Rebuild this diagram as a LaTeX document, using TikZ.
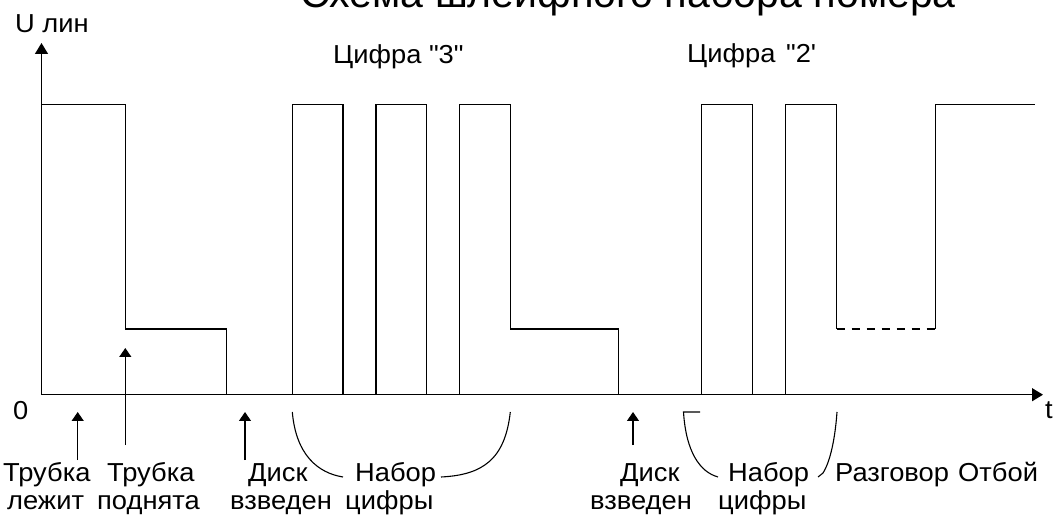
\documentclass[tikz,border=0pt]{standalone}
\usepackage{fontspec}
\usetikzlibrary{arrows.meta}
\newfontfamily\labfont[FakeStretch=1.05]{Liberation Sans}
\newfontfamily\titlefont{Liberation Sans}
\begin{document}
\begin{tikzpicture}[x=1pt,y=-1pt,
  lbl/.style={inner sep=0pt,anchor=base west,font=\labfont\fontsize{26}{30}\selectfont},
  sig/.style={line width=1.3pt,line join=miter},
  brk/.style={line width=1.1pt},
  tip/.style={-{Triangle[length=9pt,width=12pt]},line width=1.3pt},
  axis/.style={-{Triangle[length=11pt,width=13pt]},line width=1.3pt}]
\useasboundingbox[fill=white] (0,0) rectangle (1055,518);

% title (its upper part lies above the page)
\node[inner sep=0pt,anchor=base west,font=\titlefont\fontsize{41}{48}\selectfont]
  (title) at (300,8) {Схема шлейфного набора номера};

% levels
\def\yz{394.7}\def\yh{104.7}\def\ym{329}

% axes
\coordinate (O) at (41.5,\yz);
\coordinate (Ytop) at (41.5,43);
\coordinate (Tend) at (1043,\yz);
\draw[axis] (O) -- (Ytop);
\draw[axis] (O) -- (Tend);

% line voltage
\draw[sig] (41.5,\yh) -- (125.3,\yh) -- (125.3,\ym) -- (226.3,\ym) -- (226.3,\yz)
  (292.3,\yz) -- (292.3,\yh) -- (343,\yh) -- (343,\yz)
  (376,\yz) -- (376,\yh) -- (426.3,\yh) -- (426.3,\yz)
  (459.7,\yz) -- (459.7,\yh) -- (510.3,\yh) -- (510.3,\ym) -- (618.3,\ym) -- (618.3,\yz)
  (701.7,\yz) -- (701.7,\yh) -- (752.7,\yh) -- (752.7,\yz)
  (785.7,\yz) -- (785.7,\yh) -- (836.7,\yh) -- (836.7,\ym);
\draw[sig,dash pattern=on 8pt off 7pt] (836.7,\ym) -- (935.7,\ym);
\draw[sig] (935.7,\ym) -- (935.7,\yh) -- (1035.3,\yh);

% axis labels
\node[lbl] (ylab) at (15,33) {U лин};
\node[lbl] (zero) at (13,420) {0};
\node[lbl] (tlab) at (1045,418) {t};

% digit captions
\node[lbl] (dig3) at (333,64) {Цифра "3"};
\node[lbl] (dig2) at (687,63) {Цифра\hspace{3pt} "2'};

% event captions
\node[lbl] (lie1) at (3,481) {Трубка};
\node[lbl] (lie2) at (7,509) {лежит};
\node[lbl] (up1) at (107,481) {Трубка};
\node[lbl] (up2) at (97,509) {поднята};
\node[lbl] (dA1) at (248,481) {Диск};
\node[lbl] (dA2) at (230,509) {взведен};
\node[lbl] (nA1) at (355,481) {Набор};
\node[lbl] (nA2) at (345,509) {цифры};
\node[lbl] (dB1) at (620,481) {Диск};
\node[lbl] (dB2) at (590,509) {взведен};
\node[lbl] (nB1) at (728,481) {Набор};
\node[lbl] (nB2) at (718,509) {цифры};
\node[lbl] (talk) at (835,481) {Разговор};
\node[lbl] (hang) at (958,481) {Отбой};

% pointer arrows
\coordinate (p1) at (77.7,460);  \coordinate (q1) at (77.7,412);
\coordinate (p2) at (125.3,445); \coordinate (q2) at (125.3,348);
\coordinate (p3) at (245,460);   \coordinate (q3) at (245,412);
\coordinate (p4) at (633,445);   \coordinate (q4) at (633,412);
\draw[tip] (p1) -- (q1);
\draw[tip] (p2) -- (q2);
\draw[tip] (p3) -- (q3);
\draw[tip] (p4) -- (q4);

% dialling brackets
\draw[brk] (292.3,412) .. controls (296,455) and (318,473) .. (343,477);
\draw[brk] (441,477) .. controls (482,475) and (505,460) .. (510.3,412);
\draw[brk] (700,412) -- (683.5,412) .. controls (686,452) and (700,472) .. (718,477);
\draw[brk] (818,477) -- (823,473) .. controls (830,462) and (835,440) .. (837,412);
\end{tikzpicture}
\end{document}
